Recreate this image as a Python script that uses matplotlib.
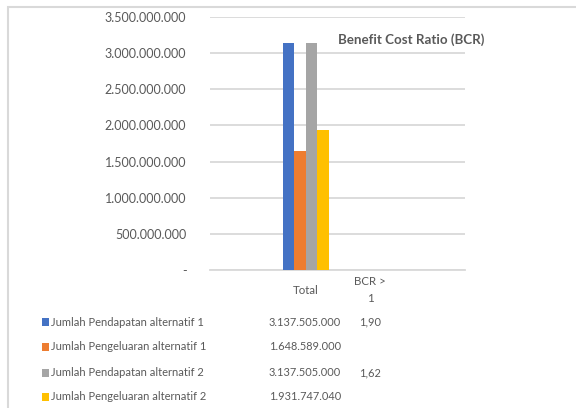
import matplotlib
matplotlib.use("Agg")
import matplotlib.pyplot as plt
from matplotlib.patches import Rectangle
from matplotlib.ticker import FuncFormatter

plt.rcParams['font.family'] = ['Lato', 'DejaVu Sans']

categories = ["Total", "BCR >\n1"]
series_names = ["Jumlah Pendapatan alternatif 1",
                "Jumlah Pengeluaran alternatif 1",
                "Jumlah Pendapatan alternatif 2",
                "Jumlah Pengeluaran alternatif 2"]
series_values = [
    [3137505000, 1.90],
    [1648589000, None],
    [3137505000, 1.62],
    [1931747040, None],
]
table_text = [
    ["3.137.505.000", "1,90"],
    ["1.648.589.000", ""],
    ["3.137.505.000", "1,62"],
    ["1.931.747.040", ""],
]
colors = ["#4472C4", "#ED7D31", "#A5A5A5", "#FFC000"]
title = "Benefit Cost Ratio (BCR)"
yticks = [0, 500000000, 1000000000, 1500000000, 2000000000,
          2500000000, 3000000000, 3500000000]

W, H = 576, 408
fig = plt.figure(figsize=(W / 100, H / 100), dpi=100)
TXT = "#595959"

def fx(px):
    return px / W

def fy(py):
    return 1 - py / H

# chart frame
fig.patches.append(Rectangle((fx(8), fy(420)), fx(600) - fx(8), fy(7) - fy(420),
                             transform=fig.transFigure, fill=False,
                             edgecolor="#D9D9D9", linewidth=1.5))

ax = fig.add_axes([fx(210), fy(270), fx(465) - fx(210), fy(17) - fy(270)])
width = 0.18
offsets = [-0.27, -0.09, 0.09, 0.27]
for i, vals in enumerate(series_values):
    xs = [j + offsets[i] for j, v in enumerate(vals) if v is not None]
    hs = [v for v in vals if v is not None]
    ax.bar(xs, hs, width=width, color=colors[i], zorder=3)

ax.set_xlim(-1.5, 2.5)
ax.set_ylim(0, 3500000000)
ax.set_yticks(yticks)

def fmt(v, pos):
    if v == 0:
        return "-"
    return f"{int(v):,}".replace(",", ".")

ax.yaxis.set_major_formatter(FuncFormatter(fmt))
ax.tick_params(axis='y', length=0, pad=17, labelsize=9, labelcolor=TXT)
ax.set_xticks([])
ax.grid(axis='y', color="#D9D9D9", linewidth=1.3, zorder=0)
for s in ["top", "right", "left"]:
    ax.spines[s].set_visible(False)
ax.spines["bottom"].set_color("#D9D9D9")
ax.spines["bottom"].set_linewidth(1.3)

# category labels
cat_x = [306, 370]
for cx, c in zip(cat_x, categories):
    fig.text(fx(cx), fy(290), c, ha='center', va='center', fontsize=8.3,
             color=TXT, linespacing=1.6)

# title
fig.text(fx(411), fy(40), title, ha='center', va='center', fontsize=9.6,
         fontweight='bold', color=TXT)

# data table with legend keys
row_y = [322, 347, 373, 397]
for i, name in enumerate(series_names):
    y = row_y[i]
    fig.patches.append(Rectangle((fx(42), fy(y + 4)), fx(49) - fx(42), fy(y - 4) - fy(y + 4),
                                 transform=fig.transFigure, facecolor=colors[i],
                                 edgecolor='none'))
    fig.text(fx(51), fy(y), name, ha='left', va='center', fontsize=8.0, color=TXT)
    fig.text(fx(341), fy(y), table_text[i][0], ha='right', va='center',
             fontsize=7.9, color=TXT)
    if table_text[i][1]:
        fig.text(fx(370), fy(y), table_text[i][1], ha='center', va='center',
                 fontsize=7.9, color=TXT)

fig.savefig("out.png", dpi=100, facecolor="white")
